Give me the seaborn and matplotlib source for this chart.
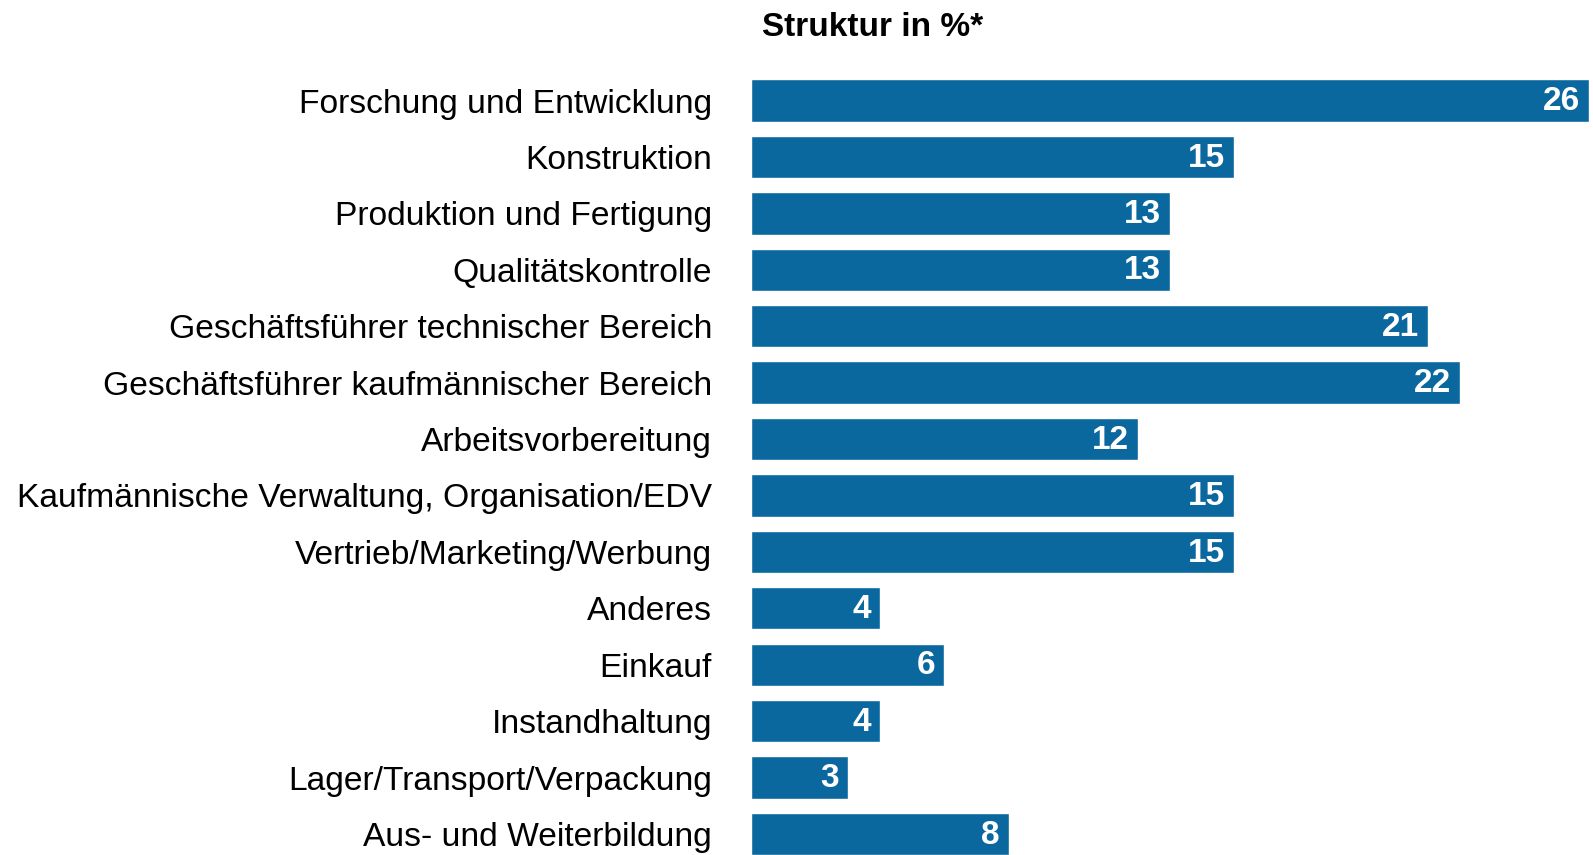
import matplotlib
matplotlib.use("Agg")
import matplotlib.pyplot as plt
import seaborn as sns
import pandas as pd

categories = [
    "Forschung und Entwicklung",
    "Konstruktion",
    "Produktion und Fertigung",
    "Qualitätskontrolle",
    "Geschäftsführer technischer Bereich",
    "Geschäftsführer kaufmännischer Bereich",
    "Arbeitsvorbereitung",
    "Kaufmännische Verwaltung, Organisation/EDV",
    "Vertrieb/Marketing/Werbung",
    "Anderes",
    "Einkauf",
    "Instandhaltung",
    "Lager/Transport/Verpackung",
    "Aus- und Weiterbildung",
]
values = [26, 15, 13, 13, 21, 22, 12, 15, 15, 4, 6, 4, 3, 8]
title = "Struktur in %*"

df = pd.DataFrame({"Bereich": categories, "Wert": values})

sns.set_theme(style="white")
plt.rcParams["font.family"] = ["Liberation Sans", "DejaVu Sans"]

W, H = 1593, 855
fig = plt.figure(figsize=(W / 100, H / 100), dpi=100)
left_px, right_px = 751, 1589
top_px = 72.3
ax = fig.add_axes([left_px / W, 0, (right_px - left_px) / W, (H - top_px) / H])

sns.barplot(data=df, x="Wert", y="Bereich", orient="h", color="#0A689E",
            width=0.75, saturation=1, ax=ax)

ax.set_xlim(0, 26)
ax.set_ylim(13.372, -0.5)
ax.set_xlabel("")
ax.set_ylabel("")
ax.set_xticks([])
for s in ax.spines.values():
    s.set_visible(False)
ax.tick_params(axis="y", length=0, pad=28, labelsize=24.2, labelcolor="black")
for lab in ax.get_yticklabels():
    lab.set_verticalalignment("center_baseline")

for i, v in enumerate(values):
    ax.text(v - 0.28, i + 0.02, str(v), ha="right", va="center", color="white",
            fontsize=24, fontweight="bold")

fig.text(873 / W, 1 - 28 / H, title, ha="center", va="center",
         fontsize=24, fontweight="bold", color="black")

fig.savefig("out.png", dpi=100, facecolor="white")
